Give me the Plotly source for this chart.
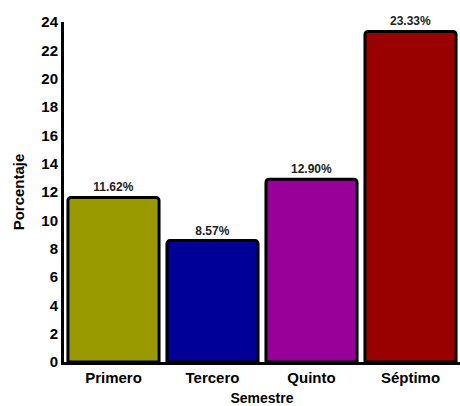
import plotly.graph_objects as go

semestres = ["Primero", "Tercero", "Quinto", "Séptimo"]
porcentajes = [11.62, 8.57, 12.90, 23.33]
colores = ["#999900", "#000099", "#990099", "#990000"]
y_ticks = list(range(0, 25, 2))

FONT = "Liberation Sans, Arial, sans-serif"

fig = go.Figure()
fig.add_trace(go.Bar(
    x=semestres,
    y=porcentajes,
    marker=dict(color=colores, line=dict(color="black", width=3), cornerradius=3),
    text=[f"<b>{p:.2f}%</b>" for p in porcentajes],
    textposition="outside",
    textfont=dict(size=12, color="#222222", family=FONT),
    cliponaxis=False,
    showlegend=False,
))

fig.update_layout(
    width=460, height=406,
    margin=dict(l=64, r=0, t=22, b=44, autoexpand=False),
    plot_bgcolor="white", paper_bgcolor="white",
    bargap=0.08,
    font=dict(family=FONT, size=14, color="black"),
)
fig.update_xaxes(
    showline=True, linecolor="black", linewidth=3,
    ticks="", tickfont=dict(size=15, family=FONT, weight="bold"),
    title=dict(text="<b>Semestre</b>", font=dict(size=14), standoff=10),
)
fig.update_yaxes(
    range=[0, 24], tickvals=y_ticks,
    showline=True, linecolor="black", linewidth=3,
    showgrid=False, zeroline=False, ticks="",
    tickfont=dict(size=15, family=FONT, weight="bold"),
    title=dict(text="<b>Porcentaje</b>", font=dict(size=15), standoff=14),
)

fig.write_html("out.html", config={"displayModeBar": False},
               post_script="document.body.style.margin='0';")
